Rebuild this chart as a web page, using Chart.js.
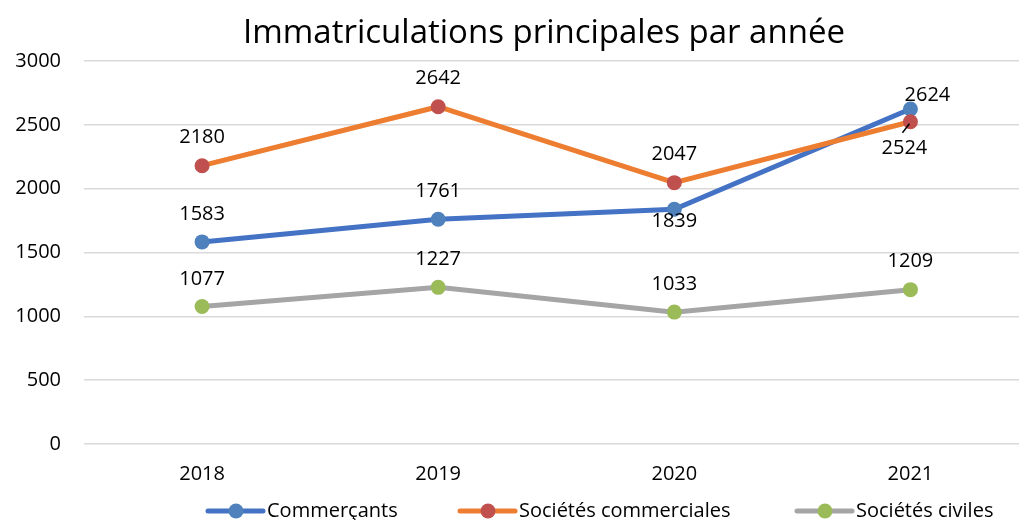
<!DOCTYPE html>
<html>
<head>
<meta charset="utf-8">
<script src="https://cdn.jsdelivr.net/npm/chart.js@4"></script>
<style>
  html, body { margin: 0; padding: 0; background: #fff; overflow: hidden; }
</style>
</head>
<body>
<canvas id="regChart" width="1036" height="520"></canvas>
<script>
// Data
const years = ["2018", "2019", "2020", "2021"];
const commercants = [1583, 1761, 1839, 2624];
const societesCommerciales = [2180, 2642, 2047, 2524];
const societesCiviles = [1077, 1227, 1033, 1209];
const yTicks = [0, 500, 1000, 1500, 2000, 2500, 3000];

const FONT = "'Open Sans', 'Noto Sans', sans-serif";

// label offsets (dx, dy) from point, per series
const labelPos = [
  [[0, -28], [0, -28], [0, 12], [17, -14]],
  [[0, -28], [0, -28], [0, -28], [-6, 27]],
  [[0, -27], [0, -28], [0, -28], [0, -28]]
];

const labelsPlugin = {
  id: "labels",
  afterDatasetsDraw(chart) {
    const ctx = chart.ctx;
    ctx.save();
    ctx.font = "20px " + FONT;
    ctx.fillStyle = "#000";
    ctx.textAlign = "center";
    ctx.textBaseline = "middle";
    chart.data.datasets.forEach((ds, i) => {
      chart.getDatasetMeta(i).data.forEach((pt, j) => {
        const [dx, dy] = labelPos[i][j];
        ctx.fillText(ds.data[j], pt.x + dx, pt.y + dy);
      });
    });
    // leader line for 2524
    const p = chart.getDatasetMeta(1).data[3];
    ctx.strokeStyle = "#000";
    ctx.lineWidth = 1.5;
    ctx.beginPath();
    ctx.moveTo(p.x - 8, p.y + 11);
    ctx.lineTo(p.x - 1, p.y + 2);
    ctx.stroke();
    ctx.restore();
  }
};

const titleLegendPlugin = {
  id: "titleLegend",
  afterDraw(chart) {
    const ctx = chart.ctx;
    ctx.save();
    ctx.fillStyle = "#000";
    ctx.font = "33px " + FONT;
    ctx.textAlign = "center";
    ctx.textBaseline = "alphabetic";
    ctx.fillText("Immatriculations principales par année", 544, 43);

    const items = [
      { x: 208, ds: chart.data.datasets[0] },
      { x: 460, ds: chart.data.datasets[1] },
      { x: 797, ds: chart.data.datasets[2] }
    ];
    const y = 511;
    ctx.font = "20px " + FONT;
    ctx.textAlign = "left";
    ctx.textBaseline = "middle";
    items.forEach(it => {
      ctx.strokeStyle = it.ds.borderColor;
      ctx.lineWidth = 5;
      ctx.lineCap = "round";
      ctx.beginPath();
      ctx.moveTo(it.x, y);
      ctx.lineTo(it.x + 55, y);
      ctx.stroke();
      ctx.fillStyle = it.ds.pointBackgroundColor;
      ctx.beginPath();
      ctx.arc(it.x + 28, y, 7.5, 0, Math.PI * 2);
      ctx.fill();
      ctx.fillStyle = "#000";
      ctx.fillText(it.ds.label, it.x + 59, y);
    });
    ctx.restore();
  }
};

const ctxReg = document.getElementById("regChart").getContext("2d");
new Chart(ctxReg, {
  type: "line",
  data: {
    labels: years,
    datasets: [{
      label: "Commerçants",
      data: commercants,
      borderColor: "#4472C4",
      pointBackgroundColor: "#4F81BD",
      order: 3
    }, {
      label: "Sociétés commerciales",
      data: societesCommerciales,
      borderColor: "#ED7D31",
      pointBackgroundColor: "#C0504D",
      order: 2
    }, {
      label: "Sociétés civiles",
      data: societesCiviles,
      borderColor: "#A5A5A5",
      pointBackgroundColor: "#9BBB59",
      order: 1
    }]
  },
  options: {
    responsive: false,
    animation: false,
    layout: { padding: { top: 61, right: 0, left: 0, bottom: 0 } },
    elements: {
      line: { borderWidth: 5, tension: 0 },
      point: { radius: 7.5, borderWidth: 0, hoverRadius: 7.5 }
    },
    plugins: {
      legend: { display: false },
      title: { display: false },
      tooltip: { enabled: false }
    },
    scales: {
      x: {
        offset: true,
        grid: { display: false, drawTicks: false },
        border: { display: false },
        ticks: { color: "#000", font: { family: FONT, size: 20 }, padding: 18 },
        afterFit(scale) { scale.height = 76; }
      },
      y: {
        min: 0,
        max: 3000,
        afterBuildTicks(scale) { scale.ticks = yTicks.map(v => ({ value: v })); },
        grid: { color: "#D9D9D9", lineWidth: 1.5, drawTicks: false },
        border: { display: false },
        ticks: {
          color: "#000",
          font: { family: FONT, size: 20 },
          padding: 23,
          callback: v => String(v)
        },
        afterFit(scale) { scale.width = 84; }
      }
    }
  },
  plugins: [labelsPlugin, titleLegendPlugin]
});
</script>
</body>
</html>
